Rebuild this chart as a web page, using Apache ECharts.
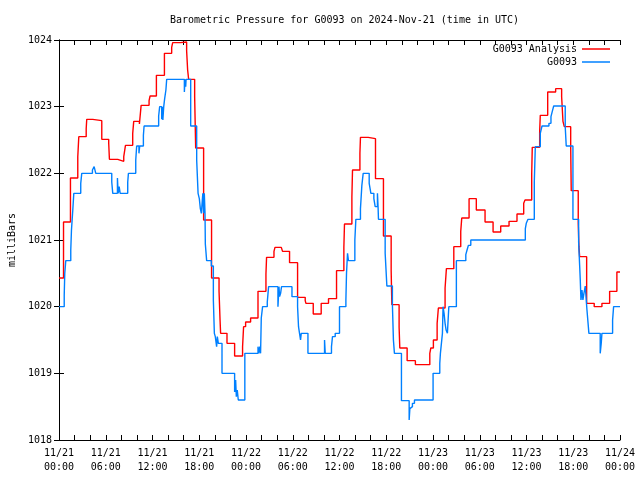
<!DOCTYPE html>
<html>
<head>
<meta charset="utf-8">
<script src="https://cdn.jsdelivr.net/npm/echarts@6/dist/echarts.min.js"></script>
<style>html,body{margin:0;padding:0;background:#fff}#c{width:640px;height:480px}</style>
</head>
<body>
<div id="c"></div>
<script>
// Hours since 2024-11-21 00:00 UTC, and pressure (mb); each value holds until the next point
var analysisHours = [0,0.58,1.47,2.41,2.54,3.49,3.56,4.33,5.49,6.38,6.47,7.54,8.31,8.53,9.46,9.59,10.32,10.54,11.56,11.69,12.5,13.53,14.46,14.59,15.58,16.38,16.51,16.64,17.41,17.54,18.56,19.58,20.54,20.67,20.74,21.56,22.54,23.56,23.69,23.95,24.59,25.54,26.56,26.64,27.59,27.72,28.53,28.69,29.59,30.62,31.6,31.69,32.63,33.65,34.59,35.62,36.56,36.64,37.59,37.67,38.62,38.69,39.68,40.62,41.64,42.63,42.72,43.65,43.74,44.68,45.74,47.59,47.72,48.05,48.53,48.69,49.55,49.72,50.67,51.56,51.69,52.63,53.56,54.68,55.71,56.69,57.76,58.78,59.64,59.81,60.67,60.74,61.69,61.77,62.72,63.74,64.51,64.68,64.85,65.67,65.74,66.64,66.73,66.82,67.72,68.69,69.68,70.67,71.6,72];
var analysisValues = [1020.43,1021.27,1021.93,1022.25,1022.55,1022.67,1022.81,1022.79,1022.51,1022.45,1022.21,1022.18,1022.25,1022.42,1022.6,1022.78,1022.74,1023.02,1023.09,1023.16,1023.47,1023.8,1023.89,1023.96,1023.97,1023.84,1023.55,1023.41,1023.15,1022.38,1021.3,1020.43,1020.23,1019.8,1019.6,1019.45,1019.26,1019.4,1019.7,1019.77,1019.83,1020.23,1020.49,1020.74,1020.83,1020.89,1020.87,1020.83,1020.66,1020.14,1020.09,1020.05,1019.89,1020.05,1020.12,1020.54,1020.89,1021.24,1021.65,1022.05,1022.3,1022.54,1022.52,1021.92,1021.06,1020.54,1020.03,1019.69,1019.38,1019.19,1019.13,1019.3,1019.38,1019.5,1019.75,1019.98,1020.28,1020.57,1020.9,1021.13,1021.33,1021.62,1021.45,1021.27,1021.12,1021.21,1021.28,1021.39,1021.55,1021.6,1022.0,1022.39,1022.63,1022.87,1023.22,1023.27,1023.15,1022.78,1022.7,1022.43,1021.74,1021.25,1020.9,1020.75,1020.05,1020.0,1020.05,1020.23,1020.52,1020.52];

var stationHours = [0,0.67,0.74,0.87,1.51,1.6,1.77,1.9,2.79,2.92,4.29,4.51,4.72,6.77,6.9,7.5,7.59,7.72,7.85,8.82,8.91,9.85,9.97,10.26,10.36,10.83,10.92,12.79,12.92,13.18,13.27,13.33,13.44,13.56,13.72,13.82,16.09,16.18,16.26,16.31,16.9,17.67,17.85,18.01,18.14,18.27,18.46,18.56,18.65,18.74,18.78,18.95,19.55,19.81,19.94,20.06,20.23,20.32,20.45,20.92,22.54,22.67,22.76,22.88,23.01,23.85,25.54,25.64,25.77,25.87,25.96,26.13,26.73,26.9,28.1,28.23,28.31,28.44,28.56,29.9,30.62,30.74,30.87,31.0,31.09,31.95,34.08,34.17,34.97,35.1,35.45,36.0,36.82,36.9,37.03,37.15,37.97,38.1,38.69,38.87,39.04,39.81,40.03,40.41,40.58,40.87,40.95,41.0,41.86,42.08,42.79,42.92,43.05,43.95,44.94,45.03,45.19,45.36,45.62,48.01,48.87,48.95,49.08,49.21,49.29,49.42,49.55,49.68,49.85,50.03,51.0,52.21,52.37,52.54,52.85,59.85,59.97,60.19,61.0,61.13,61.77,61.99,62.88,63.14,63.31,63.49,64.97,65.1,65.96,66.69,66.82,66.9,66.99,67.12,67.24,67.37,67.54,67.76,68.01,69.46,69.59,69.68,71.05,71.18,72];
var stationValues = [1020.0,1020.17,1020.5,1020.69,1020.85,1021.15,1021.45,1021.7,1021.85,1022.0,1022.05,1022.1,1022.0,1021.87,1021.7,1021.93,1021.7,1021.8,1021.7,1021.87,1022.0,1022.2,1022.41,1022.3,1022.41,1022.57,1022.71,1022.86,1023.0,1022.81,1023.0,1022.8,1023.0,1023.12,1023.25,1023.41,1023.22,1023.41,1023.3,1023.41,1022.71,1022.2,1021.7,1021.62,1021.47,1021.4,1021.7,1021.4,1021.7,1021.4,1020.94,1020.69,1020.61,1020.1,1019.6,1019.55,1019.4,1019.55,1019.45,1019.0,1018.72,1018.9,1018.65,1018.75,1018.6,1019.3,1019.4,1019.3,1019.4,1019.3,1019.83,1020.0,1020.07,1020.3,1020.0,1020.3,1020.15,1020.2,1020.3,1020.15,1020.0,1019.7,1019.6,1019.5,1019.6,1019.3,1019.5,1019.3,1019.4,1019.55,1019.6,1020.0,1020.1,1020.5,1020.8,1020.69,1021.0,1021.31,1021.47,1021.82,1022.0,1021.85,1021.7,1021.62,1021.5,1021.7,1021.5,1021.31,1020.8,1020.31,1020.03,1019.5,1019.3,1018.59,1018.3,1018.47,1018.5,1018.55,1018.6,1019.0,1019.15,1019.3,1019.45,1019.6,1020.0,1019.9,1019.75,1019.65,1019.6,1020.0,1020.69,1020.78,1020.85,1020.92,1021.0,1021.17,1021.25,1021.31,1021.87,1022.4,1022.6,1022.71,1022.75,1022.85,1022.93,1023.01,1022.7,1022.41,1021.31,1020.97,1020.62,1020.4,1020.1,1020.25,1020.1,1020.2,1020.31,1019.95,1019.6,1019.3,1019.45,1019.6,1019.8,1020.0,1020.0];

var seriesNames = ['G0093 Analysis', 'G0093'];
var dayLabels = ['11/21', '11/22', '11/23', '11/24'];

function zip(h, v) { return h.map(function (x, i) { return [x, v[i]]; }); }
function pad(n) { return (n < 10 ? '0' : '') + n; }

var FONT = 'DejaVu Sans Mono';
var chart = echarts.init(document.getElementById('c'), null, { renderer: 'canvas' });
var axisCommon = {
  axisLine: { show: true, lineStyle: { color: '#000', width: 1 } },
  axisTick: { show: true, inside: true, length: 5, lineStyle: { color: '#000', width: 1 } },
  splitLine: { show: false }
};
chart.setOption({
  animation: false,
  backgroundColor: '#fff',
  title: {
    text: 'Barometric Pressure for G0093 on 2024-Nov-21 (time in UTC)',
    left: 339.5, top: 10, textAlign: 'center',
    textStyle: { fontFamily: FONT, fontSize: 10, fontWeight: 'normal', color: '#000' }
  },
  legend: [
    { data: [seriesNames[0]], right: 30, top: 43, align: 'right', orient: 'vertical',
      icon: 'rect', itemWidth: 28, itemHeight: 1.5, padding: 0,
      textStyle: { fontFamily: FONT, fontSize: 10, color: '#000', lineHeight: 12 } },
    { data: [seriesNames[1]], right: 30, top: 56, align: 'right', orient: 'vertical',
      icon: 'rect', itemWidth: 28, itemHeight: 1.5, padding: 0,
      textStyle: { fontFamily: FONT, fontSize: 10, color: '#000', lineHeight: 12 } }
  ],
  grid: { left: 59, right: 20, top: 40, bottom: 40, containLabel: false, outerBoundsMode: 'none' },
  xAxis: [
    Object.assign({}, axisCommon, {
      type: 'value', min: 0, max: 72, interval: 2, position: 'bottom',
      axisLabel: {
        fontFamily: FONT, fontSize: 10, color: '#000', margin: 6, lineHeight: 14,
        formatter: function (h) {
          if (h % 6 !== 0) return '';
          return dayLabels[Math.floor(h / 24)] + '\n' + pad(h % 24) + ':00';
        }
      }
    }),
    Object.assign({}, axisCommon, {
      type: 'value', min: 0, max: 72, interval: 2, position: 'top',
      axisLabel: { show: false }
    })
  ],
  yAxis: [
    Object.assign({}, axisCommon, {
      type: 'value', min: 1018, max: 1024, interval: 1, position: 'left',
      name: 'milliBars', nameLocation: 'middle', nameGap: 39, nameRotate: 90,
      nameTextStyle: { fontFamily: FONT, fontSize: 10, color: '#000' },
      axisLabel: { fontFamily: FONT, fontSize: 10, color: '#000', margin: 7,
        formatter: function (v) { return String(v); } }
    }),
    Object.assign({}, axisCommon, {
      type: 'value', min: 1018, max: 1024, interval: 1, position: 'right',
      axisLabel: { show: false }
    })
  ],
  series: [
    { name: seriesNames[0], type: 'line', step: 'end', symbol: 'none',
      data: zip(analysisHours, analysisValues),
      itemStyle: { color: '#ff0000' }, lineStyle: { color: '#ff0000', width: 1.4 } },
    { name: seriesNames[1], type: 'line', step: 'end', symbol: 'none',
      data: zip(stationHours, stationValues),
      itemStyle: { color: '#0080ff' }, lineStyle: { color: '#0080ff', width: 1.4 } }
  ]
});
</script>
</body>
</html>
